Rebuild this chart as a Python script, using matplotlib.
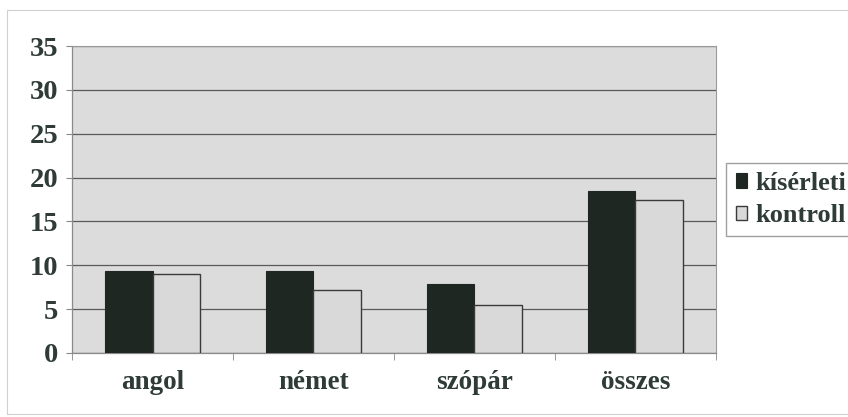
import matplotlib.pyplot as plt
import numpy as np
from matplotlib.patches import Rectangle

categories = ["angol", "német", "szópár", "összes"]
kiserleti = [9.35, 9.35, 7.9, 18.5]
kontroll = [9.0, 7.2, 5.5, 17.45]
series_labels = ["kísérleti", "kontroll"]

plt.rcParams["font.family"] = ["Liberation Serif", "DejaVu Serif"]
plt.rcParams["font.weight"] = "bold"

TXT = "#2e3b36"

fig = plt.figure(figsize=(8.48, 4.17), dpi=100)
fig.patches.append(Rectangle((0.008, 0.008), 1.1, 0.968, transform=fig.transFigure,
                             fill=False, edgecolor="#d0d0d0", lw=0.8))
ax = fig.add_axes([0.085, 0.1535, 0.759, 0.736])

x = np.arange(len(categories))
w = 0.295
ax.bar(x - w / 2, kiserleti, w, color="#1f2723", edgecolor="#1f2723", lw=0.8,
       label=series_labels[0], zorder=3)
ax.bar(x + w / 2, kontroll, w, color="#d9d9d9", edgecolor="#3a3a3a", lw=1.0,
       label=series_labels[1], zorder=3)

ax.set_facecolor("#dcdcdc")
ax.set_ylim(0, 35)
ax.set_yticks(range(0, 36, 5))
ax.set_xlim(-0.5, len(categories) - 0.5)
ax.yaxis.grid(True, color="#5a5a5a", lw=0.9, zorder=1)
ax.set_xticks(x)
ax.set_xticklabels(categories)
ax.set_xticks(np.arange(-0.5, len(categories), 1), minor=True)
ax.tick_params(axis="x", which="major", length=0, pad=12, labelsize=19.5, labelcolor=TXT)
ax.tick_params(axis="x", which="minor", length=5, color="#888888", direction="out")
ax.tick_params(axis="y", length=4, color="#888888", labelsize=20.5, labelcolor=TXT, pad=6)
for side in ["top", "right"]:
    ax.spines[side].set_color("#9a9a9a")
    ax.spines[side].set_linewidth(0.8)
for side in ["left", "bottom"]:
    ax.spines[side].set_color("#8a8a8a")
    ax.spines[side].set_linewidth(0.9)

leg = ax.legend(loc="center left", bbox_to_anchor=(1.0, 0.5), frameon=True,
                fancybox=False, edgecolor="#888888", fontsize=19, handlelength=0.45,
                handleheight=0.45, handletextpad=0.3, borderpad=0.35, labelspacing=0.35,
                borderaxespad=0.4)
for t in leg.get_texts():
    t.set_color(TXT)

fig.savefig("out.png", dpi=100)
